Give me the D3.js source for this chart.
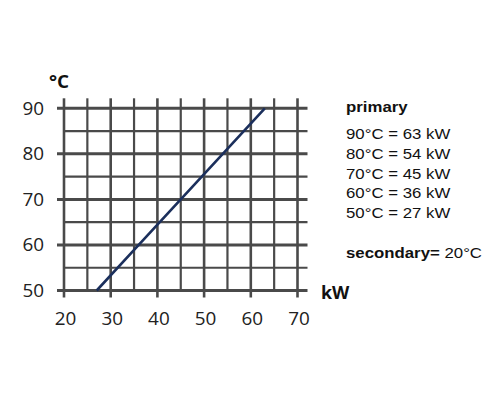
<!DOCTYPE html>
<html>
<head>
<meta charset="utf-8">
<script src="https://cdn.jsdelivr.net/npm/d3@7"></script>
<style>
  body { margin: 0; background: #fff; }
  svg { display: block; }
</style>
</head>
<body>
<script>
// chart values
const kwTicks = [20, 30, 40, 50, 60, 70];
const tempTicks = [50, 60, 70, 80, 90];
const kwGrid = [20, 25, 30, 35, 40, 45, 50, 55, 60, 65, 70];
const tempGrid = [50, 55, 60, 65, 70, 75, 80, 85, 90];
const lineTemp = [50, 60, 70, 80, 90];
const lineKw = [27, 36, 45, 54, 63];
const secondaryTemp = 20;

const width = 500, height = 400;
const axisStretch = 1.05;
const noteStretch = 1.2; // side notes are widened in the picture

const svg = d3.select('body').append('svg')
    .attr('width', width)
    .attr('height', height);

const x = d3.scaleLinear().domain([20, 70]).range([64, 297.5]);
const y = d3.scaleLinear().domain([50, 90]).range([290.5, 108.3]);

const gridColor = '#4a4a4a';

// vertical grid lines
svg.append('g').selectAll('line')
    .data(kwGrid)
    .enter()
    .append('line')
    .attr('x1', d => x(d))
    .attr('x2', d => x(d))
    .attr('y1', y(90) - 10)
    .attr('y2', d => d % 10 === 0 ? y(50) + 7 : y(50))
    .style('stroke', gridColor)
    .style('stroke-width', d => d % 10 === 0 ? 2.6 : 2.2);

// horizontal grid lines
svg.append('g').selectAll('line')
    .data(tempGrid)
    .enter()
    .append('line')
    .attr('x1', d => d % 10 === 0 ? x(20) - 7 : x(20))
    .attr('x2', x(70) + 10)
    .attr('y1', d => y(d))
    .attr('y2', d => y(d))
    .style('stroke', gridColor)
    .style('stroke-width', d => d % 10 === 0 ? 3 : 2.2);

// the power line
const pts = lineTemp.map((t, i) => [lineKw[i], t]);
svg.append('path')
    .datum(pts)
    .attr('d', d3.line().x(d => x(d[0])).y(d => y(d[1])))
    .style('fill', 'none')
    .style('stroke', '#1b2f5c')
    .style('stroke-width', 2.6);

// axes (labels only)
const xAxis = svg.append('g')
    .attr('transform', `translate(1, ${y(50) + 22})`)
    .call(d3.axisBottom(x).tickValues(kwTicks).tickSize(0).tickPadding(0));
xAxis.select('.domain').remove();
xAxis.selectAll('text')
    .attr('y', 12)
    .attr('dy', 0)
    .attr('transform', `scale(${axisStretch},1)`)
    .style('font-family', '"Open Sans", sans-serif')
    .style('font-size', '18px')
    .style('fill', '#222');

const yAxis = svg.append('g')
    .attr('transform', `translate(${x(20) - 20}, 0)`)
    .call(d3.axisLeft(y).tickValues(tempTicks).tickSize(0).tickPadding(0));
yAxis.select('.domain').remove();
yAxis.selectAll('text')
    .attr('x', 0)
    .attr('transform', `scale(${axisStretch},1)`)
    .style('font-family', '"Open Sans", sans-serif')
    .style('font-size', '18px')
    .style('fill', '#222');

// unit labels
svg.append('text')
    .attr('transform', `translate(49, 88) scale(${axisStretch},1)`)
    .style('font-family', '"Open Sans", sans-serif')
    .style('font-weight', 'bold')
    .style('font-size', '18px')
    .style('fill', '#111')
    .text('°C');

svg.append('text')
    .attr('transform', `translate(321, 299) scale(${axisStretch},1)`)
    .style('font-family', '"Open Sans", sans-serif')
    .style('font-weight', 'bold')
    .style('font-size', '17px')
    .style('fill', '#111')
    .text('kW');

// side notes
const notes = svg.append('g')
    .style('font-family', '"Liberation Sans", Arial, sans-serif')
    .style('font-size', '14px')
    .style('fill', '#111');

notes.append('text')
    .attr('transform', `translate(346, 112) scale(${noteStretch},1)`)
    .style('font-weight', 'bold')
    .text('primary');

const rows = lineTemp.map((t, i) => ({ t: t, kw: lineKw[i] })).reverse();
notes.selectAll('.row')
    .data(rows)
    .enter()
    .append('text')
    .attr('class', 'row')
    .attr('transform', (d, i) => `translate(346, ${139 + i * 19.8}) scale(${noteStretch},1)`)
    .text(d => `${d.t}°C = ${d.kw} kW`);

const sec = notes.append('text')
    .attr('transform', `translate(346, 258) scale(${noteStretch},1)`);
sec.append('tspan').style('font-weight', 'bold').text('secondary=');
sec.append('tspan').text(` ${secondaryTemp}°C`);
</script>
</body>
</html>
